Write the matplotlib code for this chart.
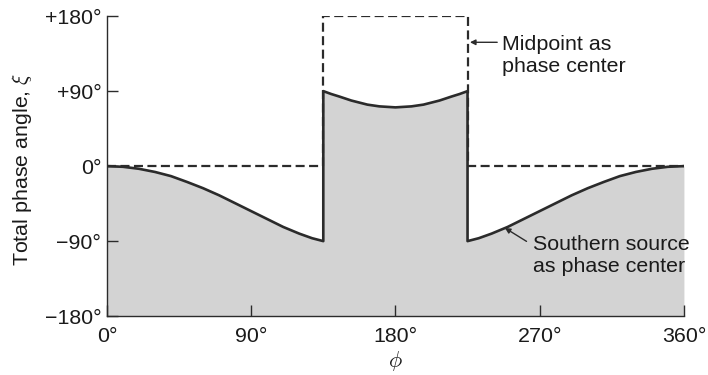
import matplotlib
matplotlib.use("Agg")
import matplotlib.pyplot as plt

plt.rcParams['font.family'] = ['Liberation Sans', 'DejaVu Sans']
plt.rcParams['mathtext.fontset'] = 'cm'
plt.rcParams['lines.scale_dashes'] = False

# Data
phi_left = [0, 10, 20, 30, 40, 50, 60, 70, 80, 90, 100, 110, 120, 128, 135]
xi_left = [0, -0.8, -3.2, -7, -12, -19, -26.5, -35, -44.5, -54, -63.5, -73, -81, -86.5, -90]

phi_center = [135, 140, 145, 152.5, 162.5, 170, 180, 190, 197.5, 207.5, 215, 220, 225]
xi_center = [90, 86.5, 83.5, 78.7, 73.8, 71.7, 70.5, 71.7, 73.8, 78.7, 83.5, 86.5, 90]

phi_right = [225, 232, 240, 250, 260, 270, 280, 290, 300, 310, 320, 330, 340, 350, 360]
xi_right = [-90, -86.5, -81, -73, -63.5, -54, -44.5, -35, -26.5, -19, -12, -7, -3.2, -0.8, 0]

phi_mid = [0, 135, 135, 225, 225, 360]
xi_mid = [0, 0, 180, 180, 0, 0]

x_ticks = [0, 90, 180, 270, 360]
x_labels = ['0°', '90°', '180°', '270°', '360°']
y_ticks = [-180, -90, 0, 90, 180]
y_labels = ['\u2212180°', '\u221290°', '0°', '+90°', '+180°']

phi_curve = phi_left + phi_center + phi_right
xi_curve = xi_left + xi_center + xi_right

ink = '#2b2b2b'
txt = '#1a1a1a'
fs = 15.4

fig = plt.figure(figsize=(7.08, 3.75), dpi=100)
ax = fig.add_axes([0.151, 0.157, 0.815, 0.800])

ax.fill_between(phi_curve, xi_curve, -180, color='#d3d3d3', lw=0, zorder=1)
ax.plot(phi_mid, xi_mid, color=ink, lw=1.6, dashes=(6.5, 3.2), zorder=2)
ax.plot(phi_curve, xi_curve, color=ink, lw=1.9, zorder=3, solid_joinstyle='round')

ax.set_xlim(0, 360)
ax.set_ylim(-180, 180)
ax.set_xticks(x_ticks)
ax.set_xticklabels(x_labels)
ax.set_yticks(y_ticks)
ax.set_yticklabels(y_labels)
ax.tick_params(direction='in', length=8, width=1.0, color=ink,
               labelsize=fs, labelcolor=txt, pad=4)
ax.tick_params(axis='x', pad=8)
for s in ['top', 'right']:
    ax.spines[s].set_visible(False)
for s in ['left', 'bottom']:
    ax.spines[s].set_color(ink)
    ax.spines[s].set_linewidth(1.0)
ax.set_facecolor('none')

ax.set_xlabel(r'$\phi$', fontsize=16, color=txt, labelpad=2)
ax.set_ylabel(r'Total phase angle, $\xi$', fontsize=fs, color=txt)
ax.yaxis.set_label_coords(-0.126, 0.49)

ax.text(246.3, 132.3, 'Midpoint as\nphase center', fontsize=fs, color=txt,
        va='center', ha='left', linespacing=1.2)
ax.annotate('', xy=(226.5, 148.6), xytext=(243.5, 148.6),
            arrowprops=dict(arrowstyle='-|>', color=ink, lw=1.0,
                            mutation_scale=8, shrinkA=0, shrinkB=0))
ax.text(265.8, -107.2, 'Southern source\nas phase center', fontsize=fs, color=txt,
        va='center', ha='left', linespacing=1.2)
ax.annotate('', xy=(248.3, -74.2), xytext=(261.8, -90.3),
            arrowprops=dict(arrowstyle='-|>', color=ink, lw=1.0,
                            mutation_scale=8, shrinkA=0, shrinkB=0))

fig.savefig('out.png', dpi=100)
